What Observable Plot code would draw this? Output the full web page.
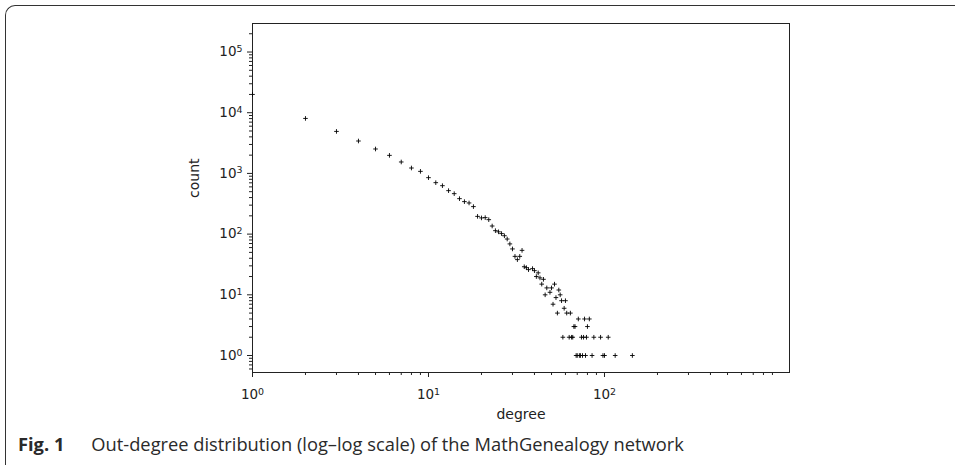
<!DOCTYPE html>
<html><head><meta charset="utf-8">
<script src="https://cdn.jsdelivr.net/npm/d3@7"></script>
<script src="https://cdn.jsdelivr.net/npm/@observablehq/plot@0.6"></script>
<style>
html,body{margin:0;padding:0;background:#fff;}
body{width:955px;height:465px;overflow:hidden;position:relative;font-family:"Open Sans",sans-serif;}
#box{position:absolute;left:5px;top:5px;width:960px;height:480px;border-top:1.5px solid #333;border-left:1.5px solid #333;border-top-left-radius:10px;}
#chart{position:absolute;left:0;top:0;}
#cap{position:absolute;left:18px;top:431px;font-size:18.3px;color:#2a2a2a;white-space:nowrap;}
#cap b{margin-right:27px;}
</style></head><body>
<div id="box"></div>
<div id="chart"></div>
<div id="cap"><b>Fig. 1</b>Out-degree distribution (log–log scale) of the MathGenealogy network</div>
<script>
// Out-degree values and their counts
const degrees = [1,2,3,4,5,6,7,8,9,10,11,12,13,14,15,16,17,18,19,20,21,22,23,24,25,26,27,28,29,30,
  31,32,33,34,35,36,37,39,40,41,42,43,44,45,46,47,49,50,51,52,53,54,55,56,57,58,59,60,61,63,64,65,66,
  67,68,69,70,71,72,73,74,75,76,77,78,79,80,82,85,87,95,98,100,105,115,144];
const counts = [20000,8054,4920,3420,2525,1983,1543,1228,1081,851,704,628,520,464,384,343,326,284,196,185,187,173,136,114,109,102,94,83,69,57,
  43,38,43,54,29,28,26,27,25,20,23,19,15,18,10,13,11,13,7,15,9,5,12,10,8,2,6,8,5,2,5,2,2,
  3,3,1,1,4,1,1,2,1,2,4,1,2,3,4,1,2,2,1,1,2,1,1];

const xMajor = [1, 10, 100];
const yMajor = [1, 10, 100, 1000, 10000, 100000];
const xLabel = "degree";
const yLabel = "count";

const xDomain = [1, 1125];
const yDomain = [0.525, 295000];

const fmt = d => "10^" + Math.round(Math.log10(d));

function minors(lo, hi) {
  const out = [];
  for (let e = Math.floor(Math.log10(lo)); e <= Math.ceil(Math.log10(hi)); e++) {
    for (let m = 2; m <= 9; m++) {
      const v = m * Math.pow(10, e);
      if (v >= lo && v <= hi) out.push(v);
    }
  }
  return out;
}
const xMinor = minors(xDomain[0], xDomain[1]);
const yMinor = minors(yDomain[0], yDomain[1]);

const data = degrees.map((d, i) => ({degree: d, count: counts[i]}));

const chart = Plot.plot({
  width: 955,
  height: 440,
  marginLeft: 252,
  marginRight: 166,
  marginTop: 23,
  marginBottom: 68,
  style: {fontFamily: "DejaVu Sans", fontSize: "12px", color: "#222", background: "transparent"},
  x: {type: "log", domain: xDomain},
  y: {type: "log", domain: yDomain},
  marks: [
    Plot.axisX(xMinor, {tickSize: 3, tickFormat: () => "", label: null, stroke: "#222"}),
    Plot.axisX(xMajor, {tickSize: 5, tickPadding: 12, tickFormat: fmt, label: null, stroke: "#222", fontSize: 13.5}),
    Plot.axisY(yMinor, {tickSize: 3, tickFormat: () => "", label: null, stroke: "#222"}),
    Plot.axisY(yMajor, {tickSize: 5, tickPadding: 5, tickFormat: fmt, label: null, stroke: "#222", fontSize: 13.5}),
    Plot.frame({stroke: "#222", strokeWidth: 1}),
    Plot.dot(data, {x: "degree", y: "count", symbol: "plus", r: 1.6, stroke: "#000", strokeWidth: 0.9, clip: true}),
    Plot.text([xLabel], {frameAnchor: "bottom", dy: 42, lineAnchor: "middle", fontSize: 14, fill: "#222"}),
    Plot.text([yLabel], {frameAnchor: "left", dx: -58, rotate: -90, lineAnchor: "middle", fontSize: 14, fill: "#222"})
  ]
});
// render "10^n" tick labels as a base with a raised exponent, like mathtext
d3.select(chart).selectAll("text").each(function() {
  const t = this.textContent;
  const m = /^10\^(-?\d+)$/.exec(t);
  if (!m) return;
  const sel = d3.select(this);
  sel.text(null);
  sel.append("tspan").text("10");
  sel.append("tspan").attr("dy", "-0.45em").attr("font-size", "70%").text(m[1]);
});
document.getElementById("chart").appendChild(chart);
</script>
</body></html>
